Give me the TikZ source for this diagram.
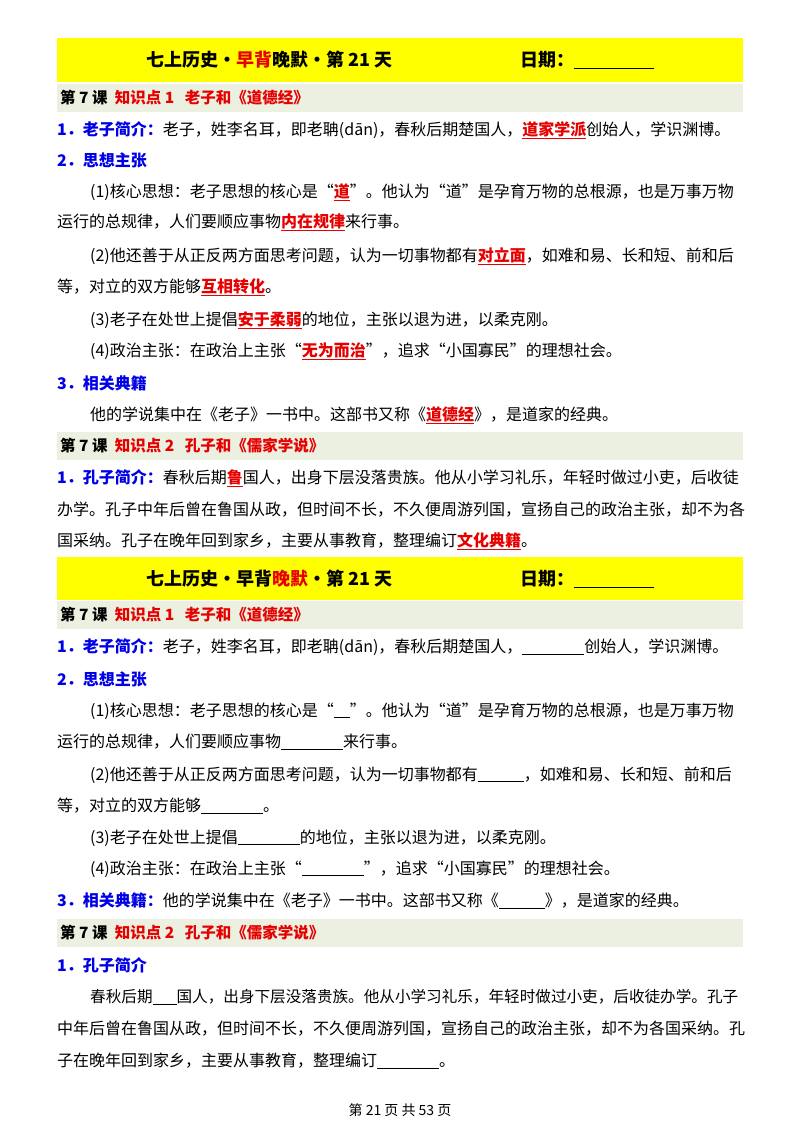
\documentclass[tikz,border=0pt]{standalone}
\usepackage{fontspec}
\setmainfont{Noto Sans CJK SC}
\definecolor{yellowbg}{RGB}{255,255,0}
\definecolor{graybg}{RGB}{235,240,225}
\definecolor{bblue}{RGB}{0,0,230}
\definecolor{rred}{RGB}{230,0,0}
\newcommand\kw[1]{{\color{rred}\bfseries\underline{#1}}}
\newcommand\bl[1]{\underline{\hspace{#1}}}
\newcommand\hd[1]{{\color{bblue}\bfseries #1}}
\begin{document}
\begin{tikzpicture}[x=1pt,y=-1pt,
  txt/.style={anchor=west,inner sep=0pt,font=\fontsize{16}{17}\selectfont},
  ttl/.style={anchor=west,inner sep=0pt,font=\fontsize{18}{19}\selectfont\bfseries},
  sec/.style={anchor=west,inner sep=0pt,font=\fontsize{15.5}{16}\selectfont\bfseries}]
\useasboundingbox[fill=white] (0,0) rectangle (800,1132);
% top half
\fill[yellowbg] (57,38) rectangle (743,82);
\node[ttl] (t1) at (146,60) {七上历史·{\color{rred}早背}晚默·第 21 天};
\node[ttl] (d1) at (520,60) {日期：\bl{80pt}};
\fill[graybg] (57,84) rectangle (743,112);
\node[sec] (s1) at (60,98) {第 7 课\ \ {\color{rred}知识点 1\ \ \ 老子和《道德经》}};
\node[txt] (a1) at (57,130) {\hd{1．老子简介：}老子，姓李名耳，即老聃(dān)，春秋后期楚国人，\kw{道家学派}创始人，学识渊博。};
\node[txt] (a2) at (57,160) {\hd{2．思想主张}};
\node[txt] (a3) at (90,192) {(1)核心思想：老子思想的核心是“\kw{道}”。他认为“道”是孕育万物的总根源，也是万事万物};
\node[txt] (a4) at (57,222) {运行的总规律，人们要顺应事物\kw{内在规律}来行事。};
\node[txt] (a5) at (90,256) {(2)他还善于从正反两方面思考问题，认为一切事物都有\kw{对立面}，如难和易、长和短、前和后};
\node[txt] (a6) at (57,287) {等，对立的双方能够\kw{互相转化}。};
\node[txt] (a7) at (90,320) {(3)老子在处世上提倡\kw{安于柔弱}的地位，主张以退为进，以柔克刚。};
\node[txt] (a8) at (90,351) {(4)政治主张：在政治上主张“\kw{无为而治}”，追求“小国寡民”的理想社会。};
\node[txt] (a9) at (57,383) {\hd{3．相关典籍}};
\node[txt] (a10) at (90,415) {他的学说集中在《老子》一书中。这部书又称《\kw{道德经}》，是道家的经典。};
\fill[graybg] (57,432) rectangle (743,460);
\node[sec] (s2) at (60,446) {第 7 课\ \ {\color{rred}知识点 2\ \ \ 孔子和《儒家学说》}};
\node[txt] (b1) at (57,478) {\hd{1．孔子简介：}春秋后期\kw{鲁}国人，出身下层没落贵族。他从小学习礼乐，年轻时做过小吏，后收徒};
\node[txt] (b2) at (57,510) {办学。孔子中年后曾在鲁国从政，但时间不长，不久便周游列国，宣扬自己的政治主张，却不为各};
\node[txt] (b3) at (57,541) {国采纳。孔子在晚年回到家乡，主要从事教育，整理编订\kw{文化典籍}。};
% bottom half
\fill[yellowbg] (57,557) rectangle (743,600);
\node[ttl] (t2) at (146,579) {七上历史·早背{\color{rred}晚默}·第 21 天};
\node[ttl] (d2) at (520,579) {日期：\bl{80pt}};
\fill[graybg] (57,601) rectangle (743,629);
\node[sec] (s3) at (60,615) {第 7 课\ \ {\color{rred}知识点 1\ \ \ 老子和《道德经》}};
\node[txt] (c1) at (57,647) {\hd{1．老子简介：}老子，姓李名耳，即老聃(dān)，春秋后期楚国人，\bl{62pt}创始人，学识渊博。};
\node[txt] (c2) at (57,679) {\hd{2．思想主张}};
\node[txt] (c3) at (90,711) {(1)核心思想：老子思想的核心是“\bl{16pt}”。他认为“道”是孕育万物的总根源，也是万事万物};
\node[txt] (c4) at (57,742) {运行的总规律，人们要顺应事物\bl{62pt}来行事。};
\node[txt] (c5) at (90,775) {(2)他还善于从正反两方面思考问题，认为一切事物都有\bl{46pt}，如难和易、长和短、前和后};
\node[txt] (c6) at (57,806) {等，对立的双方能够\bl{62pt}。};
\node[txt] (c7) at (90,838) {(3)老子在处世上提倡\bl{62pt}的地位，主张以退为进，以柔克刚。};
\node[txt] (c8) at (90,869) {(4)政治主张：在政治上主张“\bl{62pt}”，追求“小国寡民”的理想社会。};
\node[txt] (c9) at (57,901) {\hd{3．相关典籍：}他的学说集中在《老子》一书中。这部书又称《\bl{46pt}》，是道家的经典。};
\fill[graybg] (57,919) rectangle (743,947);
\node[sec] (s4) at (60,933) {第 7 课\ \ {\color{rred}知识点 2\ \ \ 孔子和《儒家学说》}};
\node[txt] (e1) at (57,965) {\hd{1．孔子简介}};
\node[txt,font=\fontsize{15.6}{17}\selectfont] (e2) at (90,997) {春秋后期\bl{24pt}国人，出身下层没落贵族。他从小学习礼乐，年轻时做过小吏，后收徒办学。孔子};
\node[txt] (e3) at (57,1029) {中年后曾在鲁国从政，但时间不长，不久便周游列国，宣扬自己的政治主张，却不为各国采纳。孔};
\node[txt] (e4) at (57,1061) {子在晚年回到家乡，主要从事教育，整理编订\bl{62pt}。};
\node[txt,anchor=center,font=\fontsize{14}{15}\selectfont] (ft) at (400,1110) {第 21 页 共 53 页};
\end{tikzpicture}
\end{document}
